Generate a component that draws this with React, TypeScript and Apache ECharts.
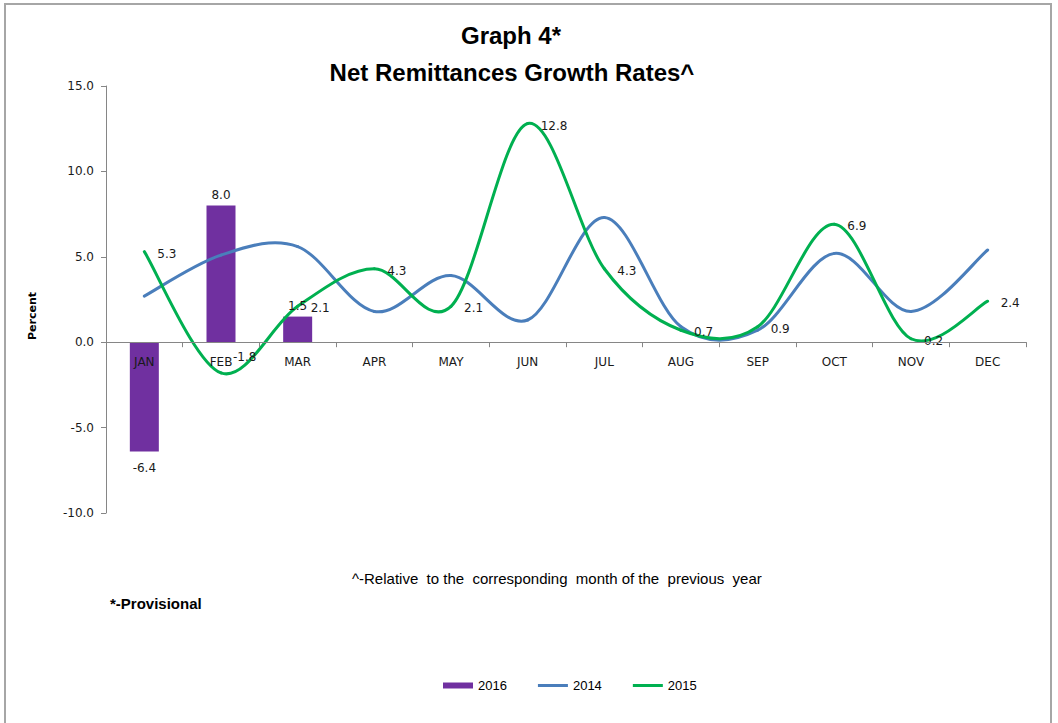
import React, { useEffect, useRef } from "react";
import * as echarts from "echarts";

const months = ["JAN", "FEB", "MAR", "APR", "MAY", "JUN", "JUL", "AUG", "SEP", "OCT", "NOV", "DEC"];
const values2016 = [-6.4, 8.0, 1.5];
const values2014 = [2.7, 5.1, 5.6, 1.8, 3.9, 1.3, 7.3, 0.9, 0.7, 5.2, 1.8, 5.4];
const values2015 = [5.3, -1.8, 2.1, 4.3, 2.1, 12.8, 4.3, 0.7, 0.9, 6.9, 0.2, 2.4];
const yMin = -10;
const yMax = 15;
const yInterval = 5;

const tickFont = "'DejaVu Sans', Verdana, sans-serif";
const arialFont = "'Liberation Sans', Arial, sans-serif";

type Pt = number[];

// Excel-like smoothed segment (Catmull-Rom converted to cubic Bezier)
function segment(pts: Pt[], i: number) {
  const p0 = pts[Math.max(i - 1, 0)];
  const p1 = pts[i];
  const p2 = pts[i + 1];
  const p3 = pts[Math.min(i + 2, pts.length - 1)];
  return {
    x1: p1[0],
    y1: p1[1],
    cpx1: p1[0] + (p2[0] - p0[0]) / 6,
    cpy1: p1[1] + (p2[1] - p0[1]) / 6,
    cpx2: p2[0] - (p3[0] - p1[0]) / 6,
    cpy2: p2[1] - (p3[1] - p1[1]) / 6,
    x2: p2[0],
    y2: p2[1],
  };
}

function smoothSeries(name: string, values: number[], color: string, withLabels: boolean) {
  return {
    name,
    type: "custom",
    data: values.map((v, i) => [i, v]),
    encode: { x: 0, y: 1 },
    itemStyle: { color },
    renderItem: (params: any, api: any) => {
      const i = params.dataIndex;
      const pts: Pt[] = values.map((v, k) => api.coord([k, v]));
      const children: any[] = [];
      if (i < values.length - 1) {
        children.push({
          type: "bezierCurve",
          shape: segment(pts, i),
          style: { stroke: color, lineWidth: 3, fill: "none", lineCap: "round" },
          z2: 1,
        });
      }
      if (withLabels) {
        const off = values[i] < 0 && i === 1 ? [12, -16] : [13, 2];
        children.push({
          type: "text",
          x: pts[i][0] + off[0],
          y: pts[i][1] + off[1],
          z2: 100,
          style: {
            text: values[i].toFixed(1),
            font: `12px ${tickFont}`,
            fill: "#1a1a1a",
            textAlign: "left",
            textVerticalAlign: "middle",
          },
        });
      }
      return { type: "group", children };
    },
  };
}

export default function App() {
  const ref = useRef<HTMLDivElement>(null);

  useEffect(() => {
    if (!ref.current) return;
    const chart = echarts.init(ref.current, undefined, { renderer: "svg" });

    const barData = values2016.map((v) => ({
      value: v,
      label: { position: v < 0 ? "bottom" : "top", distance: v < 0 ? 10 : 5 },
    }));

    const lineIcon = "path://M0,0H30V3H0Z";

    chart.setOption({
      animation: false,
      backgroundColor: "#ffffff",
      grid: { left: 106, right: 32, top: 86, bottom: 210, containLabel: false },
      graphic: [
        {
          type: "rect",
          shape: { x: 5, y: 4, width: 1046, height: 740 },
          style: { fill: "none", stroke: "#a6a6a6", lineWidth: 2 },
          silent: true,
        },
        {
          type: "text",
          x: 511,
          y: 35,
          style: {
            text: "Graph 4*",
            font: `bold 24px ${arialFont}`,
            fill: "#000",
            textAlign: "center",
            textVerticalAlign: "middle",
          },
        },
        {
          type: "text",
          x: 512,
          y: 72,
          style: {
            text: "Net Remittances Growth Rates^",
            font: `bold 24px ${arialFont}`,
            fill: "#000",
            textAlign: "center",
            textVerticalAlign: "middle",
          },
        },
        {
          type: "text",
          x: 32,
          y: 316,
          rotation: Math.PI / 2,
          style: {
            text: "Percent",
            font: `bold 11px ${tickFont}`,
            fill: "#000",
            textAlign: "center",
            textVerticalAlign: "middle",
          },
        },
        {
          type: "text",
          x: 352,
          y: 578,
          style: {
            text: "^-Relative  to the  corresponding  month of the  previous  year",
            font: `15px ${arialFont}`,
            fill: "#000",
            textAlign: "left",
            textVerticalAlign: "middle",
          },
        },
        {
          type: "text",
          x: 110,
          y: 603,
          style: {
            text: "*-Provisional",
            font: `bold 15px ${arialFont}`,
            fill: "#000",
            textAlign: "left",
            textVerticalAlign: "middle",
          },
        },
      ],
      legend: {
        left: 438,
        top: 674,
        itemWidth: 30,
        itemHeight: 6,
        itemGap: 31,
        symbolKeepAspect: true,
        textStyle: { fontFamily: arialFont, fontSize: 13, color: "#000" },
        data: [
          { name: "2016", icon: "rect" },
          { name: "2014", icon: lineIcon },
          { name: "2015", icon: lineIcon },
        ],
      },
      xAxis: {
        type: "category",
        data: months,
        boundaryGap: true,
        z: 5,
        axisLine: { onZero: true, lineStyle: { color: "#868686", width: 1 } },
        axisTick: { show: true, length: 5, lineStyle: { color: "#868686" } },
        axisLabel: { margin: -157, fontFamily: tickFont, fontSize: 12, color: "#1a1a1a" },
        splitLine: { show: false },
      },
      yAxis: {
        type: "value",
        min: yMin,
        max: yMax,
        interval: yInterval,
        axisLine: { show: true, lineStyle: { color: "#868686", width: 1 } },
        axisTick: { show: true, length: 5, lineStyle: { color: "#868686" } },
        axisLabel: {
          margin: 12,
          fontFamily: tickFont,
          fontSize: 12,
          color: "#1a1a1a",
          formatter: (v: number) => v.toFixed(1),
        },
        splitLine: { show: false },
      },
      series: [
        {
          name: "2016",
          type: "bar",
          data: barData,
          barWidth: 29,
          itemStyle: { color: "#7030A0" },
          label: {
            show: true,
            fontFamily: tickFont,
            fontSize: 12,
            color: "#1a1a1a",
            formatter: (p: any) => Number(p.value).toFixed(1),
          },
        },
        smoothSeries("2014", values2014, "#4A7EBB", false),
        smoothSeries("2015", values2015, "#00B050", true),
      ],
    });

    return () => chart.dispose();
  }, []);

  return (
    <div
      ref={ref}
      style={{ position: "fixed", left: 0, top: 0, width: 1058, height: 723 }}
    />
  );
}
